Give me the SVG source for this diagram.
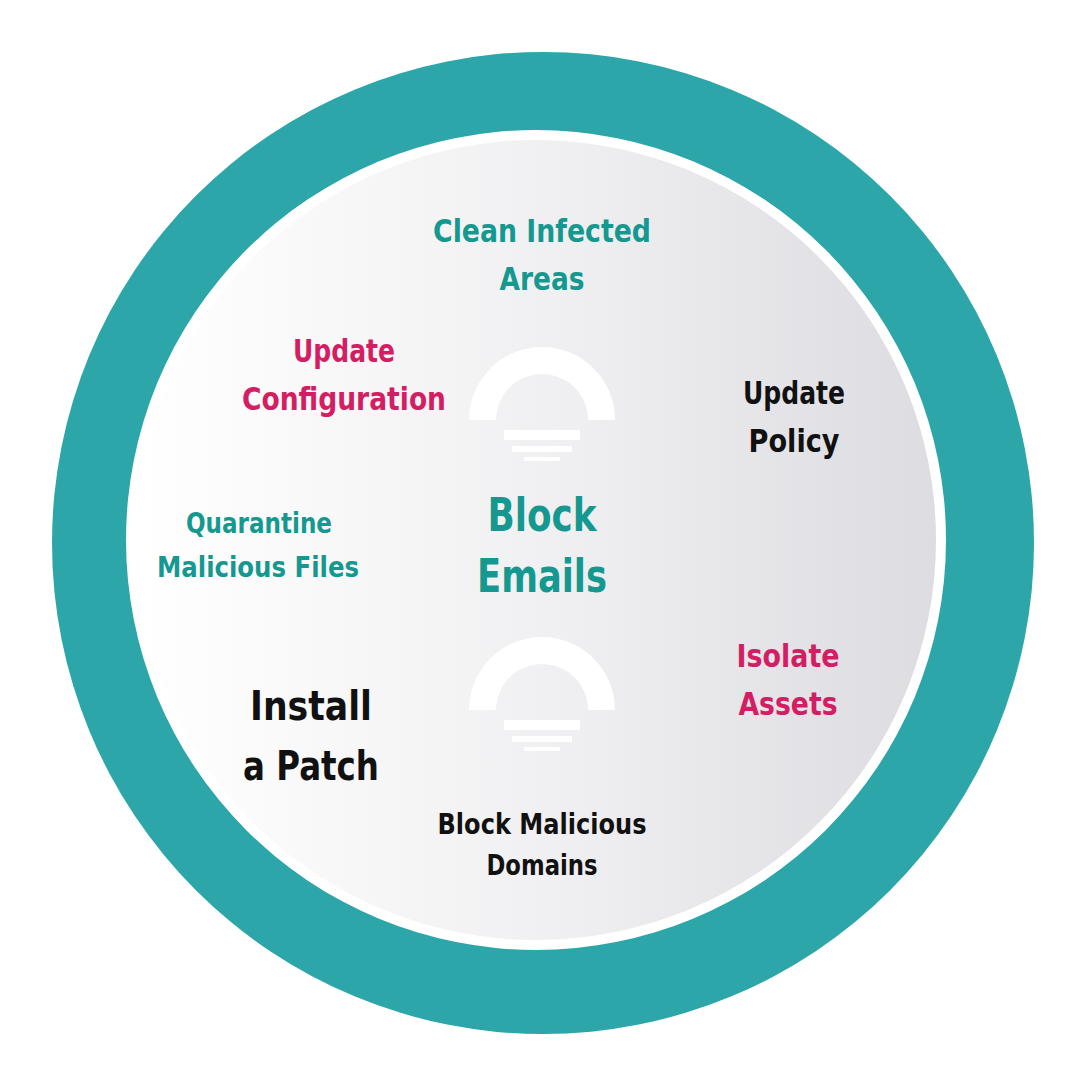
<svg xmlns="http://www.w3.org/2000/svg" width="1086" height="1086" viewBox="0 0 1086 1086">
<defs>
<linearGradient id="g" x1="0" y1="0" x2="1" y2="0">
<stop offset="0" stop-color="#ffffff"/><stop offset="0.55" stop-color="#efeff1"/><stop offset="1" stop-color="#dcdce1"/>
</linearGradient>
<g id="icon">
<path d="M-73,0 A73,73 0 0 1 73,0 L46,0 A46,46 0 0 0 -46,0 Z" fill="#ffffff"/>
<rect x="-38" y="10" width="76" height="10" fill="#ffffff"/>
<rect x="-30" y="26" width="60" height="6" fill="#ffffff"/>
<rect x="-18" y="37" width="36" height="4" fill="#ffffff"/>
</g>
</defs>
<style>
text{font-family:"DejaVu Sans","Liberation Sans",sans-serif;font-weight:bold;text-anchor:middle}
.t{fill:#14988f}.p{fill:#d41d62}.k{fill:#111111}
</style>
<rect width="1086" height="1086" fill="#ffffff"/>
<circle cx="543" cy="543" r="491" fill="#2ca6a9"/>
<circle cx="536" cy="540" r="410" fill="#ffffff"/>
<circle cx="536" cy="540" r="400" fill="url(#g)"/>
<g id="icon1"><use href="#icon" x="542" y="420"/></g>
<g id="icon2"><use href="#icon" x="542" y="710"/></g>
<g id="center"><text class="t" x="542" y="531" font-size="46" textLength="109" lengthAdjust="spacingAndGlyphs">Block</text><text class="t" x="542" y="592" font-size="46" textLength="130" lengthAdjust="spacingAndGlyphs">Emails</text></g>
<g id="n1"><text class="t" x="542" y="242" font-size="32" textLength="218" lengthAdjust="spacingAndGlyphs">Clean Infected</text><text class="t" x="542" y="290" font-size="32" textLength="85" lengthAdjust="spacingAndGlyphs">Areas</text></g>
<g id="n2"><text class="p" x="344" y="362" font-size="32" textLength="102" lengthAdjust="spacingAndGlyphs">Update</text><text class="p" x="344" y="410" font-size="32" textLength="204" lengthAdjust="spacingAndGlyphs">Configuration</text></g>
<g id="n3"><text class="k" x="794" y="404" font-size="32" textLength="102" lengthAdjust="spacingAndGlyphs">Update</text><text class="k" x="794" y="452" font-size="32" textLength="91" lengthAdjust="spacingAndGlyphs">Policy</text></g>
<g id="n4"><text class="t" x="259" y="533" font-size="28" textLength="146" lengthAdjust="spacingAndGlyphs">Quarantine</text><text class="t" x="258" y="577" font-size="28" textLength="202" lengthAdjust="spacingAndGlyphs">Malicious Files</text></g>
<g id="n5"><text class="p" x="788" y="667" font-size="32" textLength="103" lengthAdjust="spacingAndGlyphs">Isolate</text><text class="p" x="788" y="715" font-size="32" textLength="99" lengthAdjust="spacingAndGlyphs">Assets</text></g>
<g id="n6"><text class="k" x="311" y="720" font-size="40" textLength="122" lengthAdjust="spacingAndGlyphs">Install</text><text class="k" x="311" y="780" font-size="40" textLength="136" lengthAdjust="spacingAndGlyphs">a Patch</text></g>
<g id="n7"><text class="k" x="542" y="834" font-size="28" textLength="209" lengthAdjust="spacingAndGlyphs">Block Malicious</text><text class="k" x="542" y="875" font-size="28" textLength="111" lengthAdjust="spacingAndGlyphs">Domains</text></g>
<g id="connectors"/>
</svg>
